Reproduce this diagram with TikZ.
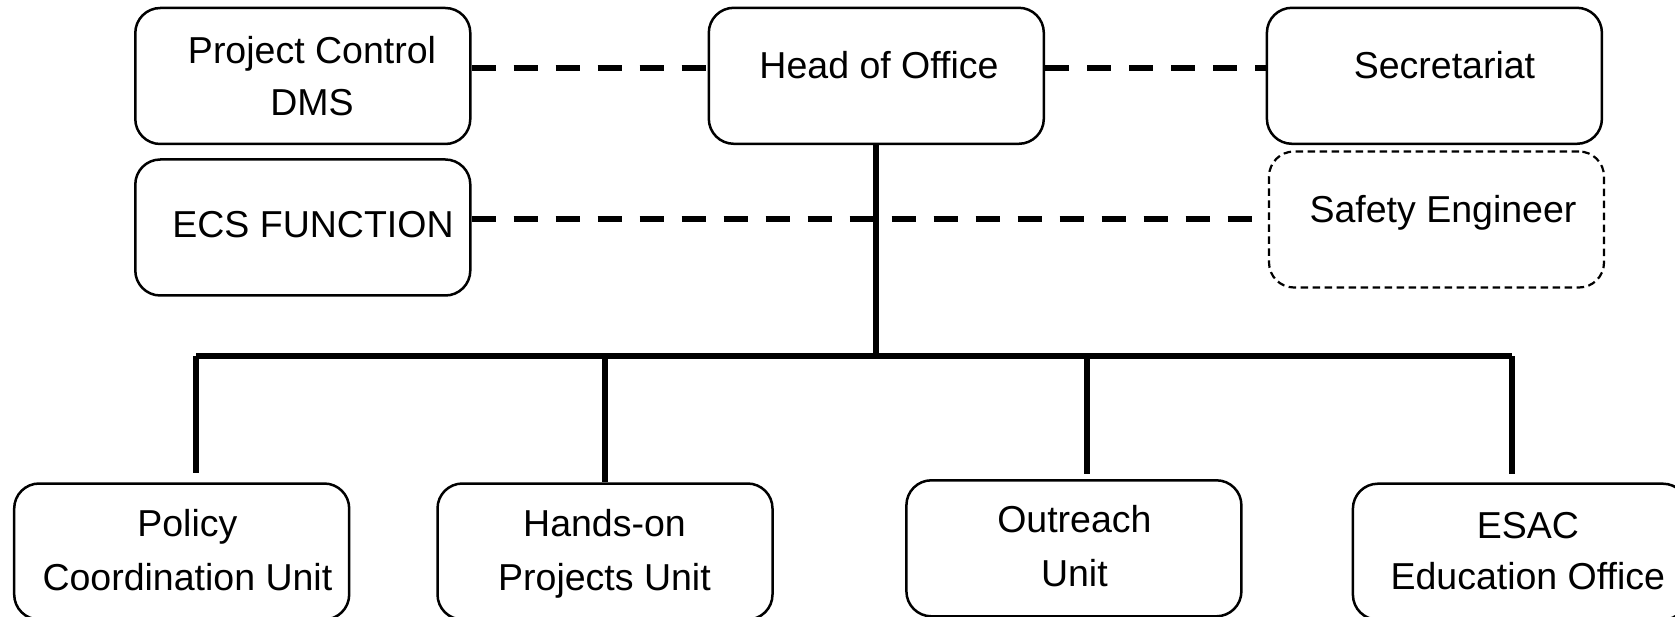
\documentclass[tikz,border=0pt]{standalone}
\usepackage{fontspec}
\setmainfont{Liberation Sans}
\begin{document}
\begin{tikzpicture}[x=1pt,y=1pt,
  box/.style={draw=black, line width=2.5pt, rounded corners=25pt, rectangle,
              minimum width=335pt, minimum height=136pt, inner sep=0pt, fill=white},
  dbox/.style={box, line width=2.2pt, dash pattern=on 7.5pt off 4.5pt},
  txt/.style={anchor=base, inner sep=0pt, font=\fontsize{37.5pt}{45pt}\selectfont},
  dashline/.style={line width=6pt, dash pattern=on 24pt off 18pt},
  solidline/.style={line width=6pt}]
\clip (0,0) rectangle (1675,-617);
\fill[white] (0,0) rectangle (1675,-617);

% bus coordinates
\coordinate (busL) at (196,-356);
\coordinate (busR) at (1511.7,-356);
\coordinate (busH) at (876.3,-356);
\coordinate (busP) at (604.5,-356);
\coordinate (busO) at (1087,-356);

% boxes
\node[box] (pc)   at (302.8,-76)   {};
\node[box] (head) at (876.3,-75.8) {};
\node[box] (sec)  at (1434.4,-75.8){};
\node[box] (ecs)  at (302.8,-227.5){};
\node[dbox] (safe) at (1436.5,-219.5){};
\node[box] (pol)  at (181.7,-551.5){};
\node[box] (hand) at (605,-551.5)  {};
\node[box] (out)  at (1073.9,-548.3){};
\node[box] (esac) at (1520.4,-551.7){};

% texts
\node[txt] (pc1) at (312,-63.3) {Project Control};
\node[txt] (pc2) at (312,-115.6) {DMS};
\node[txt] (headt) at (879,-78.3) {Head of Office};
\node[txt] (sect) at (1444.5,-78.3) {Secretariat};
\node[txt] (ecst) at (313,-237.5) {ECS FUNCTION};
\node[txt] (safet) at (1443,-222.5) {Safety Engineer};
\node[txt] (pol1) at (187.4,-536.5) {Policy};
\node[txt] (pol2) at (187.4,-590) {Coordination Unit};
\node[txt] (hand1) at (604.5,-536.5) {Hands-on};
\node[txt] (hand2) at (604.5,-590) {Projects Unit};
\node[txt] (out1) at (1074.4,-532) {Outreach};
\node[txt] (out2) at (1074.4,-586) {Unit};
\node[txt] (esac1) at (1527.8,-538) {ESAC};
\node[txt] (esac2) at (1527.8,-589) {Education Office};

% dashed staff lines
\draw[dashline] (pc.east |- 0,-68.3) -- (head.west |- 0,-68.3);
\draw[dashline] (head.east |- 0,-68.3) -- (sec.west |- 0,-68.3);
\draw[dashline] (ecs.east |- safe.west) -- (safe.west);

% hierarchy
\draw[solidline] (head.south) -- (busH);
\draw[solidline] (busL) -- (busR);
\draw[solidline, shorten >=9pt] (busL) -- (busL |- pol.north);
\draw[solidline] (busP) -- (busP |- hand.north);
\draw[solidline, shorten >=4.6pt] (busO) -- (busO |- out.north);
\draw[solidline, shorten >=8.3pt] (busR) -- (busR |- esac.north);
\end{tikzpicture}
\end{document}
